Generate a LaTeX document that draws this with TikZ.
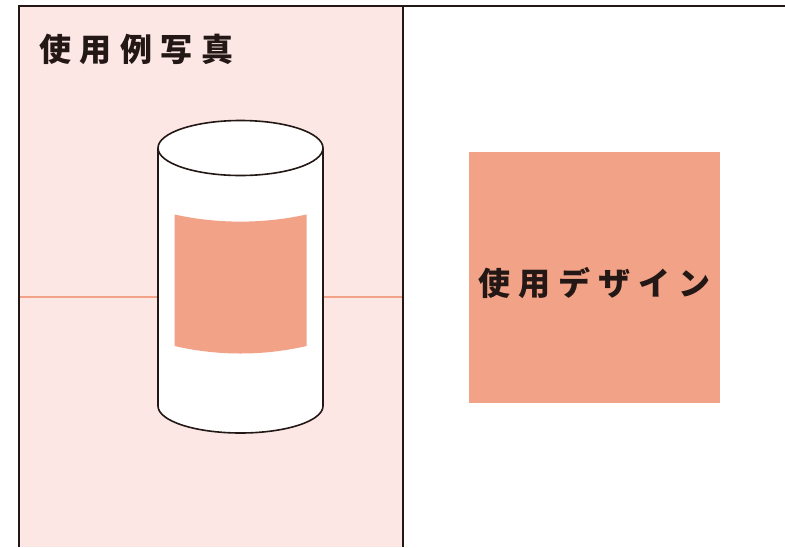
\documentclass[tikz,border=0pt]{standalone}
\usepackage{fontspec}
\newfontfamily\jp{Noto Sans CJK JP}
\definecolor{panelpink}{HTML}{FCE7E5}
\definecolor{salmon}{HTML}{F2A287}
\definecolor{ink}{HTML}{231815}
\begin{document}
\begin{tikzpicture}[x=1pt,y=-1pt,
  frame/.style={draw=ink,line width=2pt},
  outline/.style={draw=ink,line width=1.6pt},
  guide/.style={draw=salmon,line width=2.6pt},
  title/.style={font=\jp\bfseries\fontsize{32}{36}\selectfont,text=ink,inner sep=0pt}]
\useasboundingbox (0,0) rectangle (785,547);
% panel background
\fill[panelpink] (19,6) rectangle (403,547);
% horizontal guide lines
\coordinate (gl) at (19,297);
\coordinate (gr) at (403,297);
\coordinate (cl) at (158,297);
\coordinate (cr) at (323,297);
\draw[guide] (gl) -- (cl);
\draw[guide] (cr) -- (gr);
% cylinder body
\filldraw[fill=white,outline] (158,148) -- (158,406) arc[start angle=180,end angle=0,x radius=82.5,y radius=27] -- (323,148);
\filldraw[fill=white,outline] (240.5,148) ellipse[x radius=82.5,y radius=27.5];
% label on cylinder
\fill[salmon] (174.5,214.5) .. controls (218,224) and (263,224) .. (306.5,214.5)
  -- (306.5,346) .. controls (263,356) and (218,356) .. (174.5,346) -- cycle;
% frame lines
\coordinate (tl) at (19,6);
\coordinate (tr) at (785,6);
\coordinate (bl) at (19,547);
\coordinate (dt) at (403,6);
\coordinate (db) at (403,547);
\draw[frame] (bl) -- (tl) -- (tr);
\draw[frame] (dt) -- (db);
% design square
\node[fill=salmon,minimum width=251pt,minimum height=251pt,inner sep=0pt,anchor=north west] (design) at (469,152) {};
\node[title] (dlabel) at (594,283) {使\kern8pt 用\kern8pt デ\kern8pt ザ\kern8pt イ\kern8pt ン};
\node[title,anchor=west] (plabel) at (39,49) {使\kern8.5pt 用\kern8.5pt 例\kern8.5pt 写\kern8.5pt 真};
\end{tikzpicture}
\end{document}
